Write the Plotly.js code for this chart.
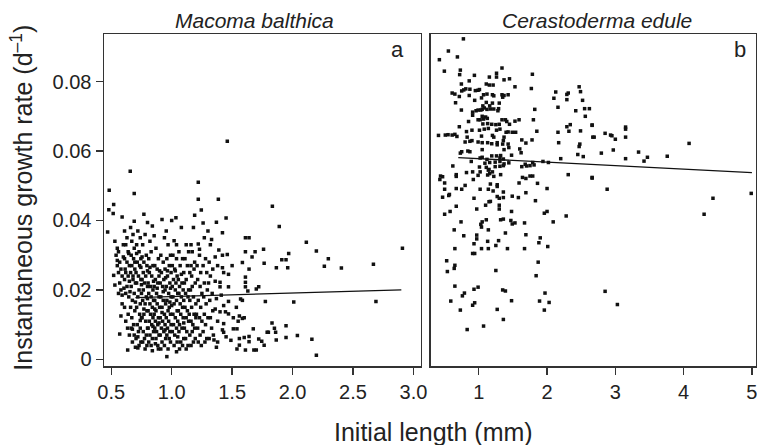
<!DOCTYPE html>
<html>
<head>
<meta charset="utf-8">
<script src="https://cdn.plot.ly/plotly-3.0.1.min.js"></script>
<style>html,body{margin:0;padding:0;background:#fff;}#chart{width:757px;height:445px;}</style>
</head>
<body>
<div id="chart"></div>
<script>
// ---- Data ----
const panelTitles = ["Macoma balthica", "Cerastoderma edule"];
const panelLetters = ["a", "b"];
const xTicksA = [0.5, 1.0, 1.5, 2.0, 2.5, 3.0];
const xTickTextA = ["0.5", "1.0", "1.5", "2.0", "2.5", "3.0"];
const xTicksB = [1, 2, 3, 4, 5];
const xTickTextB = ["1", "2", "3", "4", "5"];
const yTicks = [0, 0.02, 0.04, 0.06, 0.08];
const yTickText = ["0", "0.02", "0.04", "0.06", "0.08"];

// Macoma balthica: [initial length (mm), growth rate (d^-1)]
const macomaPoints = [
[0.53,0.034],[0.55,0.032],[0.56,0.031],[0.54,0.030],[0.57,0.028],[0.55,0.027],[0.58,0.026],[0.56,0.025],[0.59,0.024],[0.57,0.022],[0.53,0.0214],[0.58,0.020],[0.56,0.019],[0.59,0.016],[0.58,0.0125],[0.55,0.0285],[0.60,0.033],[0.52,0.0242],[0.57,0.0073],[0.59,0.0185],[0.60,0.0295],
[0.61,0.037],[0.63,0.035],[0.62,0.033],[0.64,0.031],[0.61,0.029],[0.63,0.028],[0.65,0.027],[0.62,0.025],[0.64,0.024],[0.61,0.023],[0.63,0.021],[0.62,0.019],[0.645,0.018],[0.61,0.015],[0.64,0.013],[0.62,0.011],[0.635,0.009],[0.65,0.007],[0.615,0.026],[0.645,0.0305],[0.605,0.0205],[0.65,0.0225],[0.636,0.0027],
[0.66,0.038],[0.68,0.036],[0.67,0.034],[0.69,0.032],[0.665,0.030],[0.685,0.029],[0.67,0.027],[0.695,0.026],[0.66,0.025],[0.68,0.023],[0.70,0.022],[0.665,0.021],[0.69,0.019],[0.675,0.017],[0.66,0.015],[0.695,0.014],[0.67,0.012],[0.685,0.010],[0.665,0.009],[0.69,0.007],[0.675,0.005],[0.70,0.0035],[0.68,0.024],[0.695,0.028],[0.655,0.0195],[0.70,0.0165],[0.69,0.0398],[0.675,0.0087],
[0.72,0.037],[0.74,0.035],[0.71,0.033],[0.73,0.031],[0.745,0.029],[0.715,0.028],[0.735,0.027],[0.705,0.025],[0.725,0.024],[0.745,0.023],[0.71,0.022],[0.73,0.020],[0.75,0.019],[0.72,0.018],[0.74,0.016],[0.71,0.015],[0.735,0.013],[0.75,0.012],[0.715,0.010],[0.74,0.009],[0.725,0.008],[0.705,0.006],[0.745,0.005],[0.73,0.004],[0.72,0.0033],[0.745,0.0265],[0.71,0.0305],[0.75,0.0215],[0.74,0.0112],[0.72,0.0065],
[0.77,0.0418],[0.78,0.036],[0.76,0.033],[0.79,0.030],[0.77,0.028],[0.795,0.027],[0.765,0.025],[0.785,0.024],[0.755,0.023],[0.775,0.022],[0.80,0.021],[0.765,0.020],[0.79,0.018],[0.76,0.017],[0.78,0.016],[0.795,0.014],[0.77,0.013],[0.755,0.012],[0.785,0.011],[0.80,0.009],[0.765,0.008],[0.79,0.007],[0.775,0.006],[0.76,0.005],[0.795,0.004],[0.78,0.003],[0.80,0.0394],[0.755,0.0295],[0.80,0.0255],[0.77,0.0145],
[0.84,0.0384],[0.82,0.034],[0.83,0.031],[0.81,0.029],[0.845,0.027],[0.815,0.025],[0.835,0.024],[0.805,0.022],[0.825,0.021],[0.845,0.020],[0.81,0.019],[0.83,0.018],[0.85,0.017],[0.82,0.016],[0.84,0.015],[0.805,0.014],[0.825,0.013],[0.845,0.012],[0.815,0.011],[0.835,0.010],[0.805,0.009],[0.85,0.008],[0.82,0.007],[0.84,0.006],[0.81,0.005],[0.83,0.004],[0.84,0.0025],[0.82,0.0265],[0.85,0.0225],[0.80,0.0175],[0.845,0.0095],
[0.855,0.0356],[0.87,0.032],[0.89,0.029],[0.86,0.027],[0.88,0.026],[0.895,0.024],[0.865,0.023],[0.885,0.022],[0.855,0.021],[0.875,0.019],[0.895,0.018],[0.86,0.017],[0.88,0.016],[0.90,0.015],[0.87,0.014],[0.855,0.013],[0.89,0.012],[0.865,0.011],[0.885,0.010],[0.86,0.009],[0.875,0.008],[0.895,0.007],[0.87,0.006],[0.885,0.004],[0.89,0.003],[0.865,0.0045],[0.88,0.0205],[0.90,0.0255],[0.86,0.0145],[0.895,0.0105],
[0.92,0.0403],[0.94,0.035],[0.91,0.030],[0.93,0.028],[0.945,0.026],[0.915,0.025],[0.935,0.023],[0.905,0.022],[0.925,0.021],[0.945,0.020],[0.91,0.018],[0.93,0.017],[0.95,0.016],[0.92,0.015],[0.94,0.013],[0.905,0.012],[0.925,0.011],[0.945,0.010],[0.915,0.009],[0.935,0.008],[0.905,0.007],[0.95,0.006],[0.92,0.005],[0.94,0.004],[0.91,0.003],[0.93,0.0195],[0.95,0.0235],[0.92,0.0135],[0.945,0.0085],
[0.955,0.037],[0.97,0.033],[0.99,0.030],[0.96,0.029],[0.98,0.027],[0.995,0.025],[0.965,0.024],[0.985,0.022],[0.955,0.021],[0.975,0.019],[0.995,0.018],[0.96,0.017],[0.98,0.015],[0.97,0.014],[0.99,0.013],[0.955,0.012],[0.975,0.011],[0.995,0.010],[0.965,0.009],[0.985,0.008],[0.96,0.007],[0.98,0.006],[0.99,0.005],[0.97,0.003],[0.96,0.0008],[1.00,0.040],[0.985,0.0165],[0.965,0.0255],[0.99,0.0205],
[1.035,0.0408],[1.02,0.0342],[1.01,0.030],[1.04,0.029],[1.005,0.027],[1.025,0.026],[1.045,0.024],[1.015,0.023],[1.035,0.022],[1.005,0.021],[1.03,0.020],[1.05,0.019],[1.01,0.018],[1.04,0.017],[1.02,0.016],[1.045,0.014],[1.01,0.013],[1.03,0.012],[1.05,0.011],[1.015,0.010],[1.04,0.009],[1.005,0.008],[1.025,0.007],[1.045,0.005],[1.02,0.004],[1.04,0.0022],[1.04,0.033],[1.00,0.0155],[1.03,0.0255],[1.05,0.0065],
[1.08,0.038],[1.06,0.031],[1.09,0.029],[1.07,0.027],[1.10,0.025],[1.055,0.023],[1.085,0.022],[1.065,0.021],[1.095,0.020],[1.06,0.019],[1.08,0.018],[1.10,0.017],[1.07,0.016],[1.09,0.015],[1.055,0.014],[1.075,0.013],[1.095,0.012],[1.065,0.010],[1.085,0.009],[1.06,0.008],[1.10,0.006],[1.075,0.005],[1.09,0.004],[1.065,0.003],[1.08,0.0245],[1.10,0.0105],
[1.12,0.033],[1.14,0.031],[1.11,0.029],[1.13,0.027],[1.15,0.025],[1.12,0.023],[1.105,0.022],[1.14,0.020],[1.115,0.019],[1.135,0.018],[1.15,0.017],[1.11,0.015],[1.13,0.014],[1.145,0.013],[1.12,0.012],[1.14,0.011],[1.105,0.009],[1.125,0.008],[1.15,0.007],[1.115,0.006],[1.135,0.004],[1.12,0.003],[1.16,0.033],
[1.19,0.0415],[1.18,0.038],[1.17,0.031],[1.19,0.028],[1.16,0.027],[1.185,0.026],[1.165,0.024],[1.195,0.022],[1.17,0.021],[1.155,0.020],[1.18,0.018],[1.20,0.016],[1.165,0.015],[1.185,0.013],[1.20,0.012],[1.16,0.011],[1.175,0.010],[1.19,0.009],[1.17,0.008],[1.195,0.006],[1.18,0.005],[1.16,0.004],
[1.245,0.043],[1.22,0.0332],[1.23,0.030],[1.21,0.027],[1.24,0.025],[1.215,0.023],[1.235,0.021],[1.25,0.019],[1.22,0.017],[1.24,0.015],[1.205,0.013],[1.23,0.012],[1.25,0.011],[1.215,0.009],[1.235,0.007],[1.22,0.005],[1.245,0.004],[1.23,0.0317],
[1.27,0.035],[1.26,0.0393],[1.28,0.029],[1.26,0.027],[1.29,0.025],[1.27,0.022],[1.295,0.020],[1.265,0.018],[1.285,0.016],[1.27,0.013],[1.30,0.012],[1.28,0.010],[1.26,0.008],[1.29,0.006],[1.275,0.005],
[1.30,0.037],[1.32,0.033],[1.31,0.028],[1.34,0.026],[1.32,0.024],[1.305,0.022],[1.335,0.019],[1.315,0.017],[1.34,0.014],[1.32,0.012],[1.33,0.009],[1.345,0.007],[1.35,0.0056],[1.31,0.006],
[1.46,0.0628],[0.657,0.0542],[0.483,0.0487],[0.69,0.0478],[1.22,0.051],[1.22,0.0461],[1.386,0.0461],[1.45,0.0407],[1.833,0.0441],[1.89,0.0383],[2.114,0.0337],[2.197,0.0312],[2.909,0.032],[2.669,0.0274],[2.404,0.0263],[2.296,0.029],[2.263,0.0268],[1.968,0.0305],[1.946,0.0287],[1.911,0.0287],[1.866,0.0264],[1.96,0.0264],[1.76,0.0317],[1.765,0.0277],[1.69,0.031],[1.665,0.0295],[1.61,0.035],[1.64,0.035],[1.61,0.031],[1.585,0.0279],[1.64,0.026],[1.50,0.027],[1.42,0.0264],[1.46,0.0302],[1.43,0.025],[1.47,0.0245],[1.72,0.0209],[1.70,0.0203],[1.61,0.0237],[1.61,0.0222],[1.61,0.0209],[1.63,0.0197],[1.57,0.0174],[1.585,0.017],[1.47,0.0209],[1.40,0.0222],[1.40,0.0209],[1.775,0.0167],[2.01,0.0165],[2.69,0.0167],[1.47,0.0167],[1.535,0.015],[1.47,0.0131],[1.40,0.0137],[1.445,0.0137],[1.51,0.012],[1.56,0.0125],[1.585,0.0118],[1.60,0.012],[1.55,0.011],[1.43,0.0103],[1.38,0.011],[1.51,0.0088],[1.54,0.0088],[1.675,0.0088],[1.83,0.0105],[1.85,0.009],[1.946,0.0097],[1.79,0.0078],[1.80,0.0078],[1.86,0.0078],[1.43,0.0078],[1.64,0.0066],[1.60,0.0063],[1.56,0.006],[1.72,0.0059],[1.745,0.0052],[1.765,0.0041],[1.865,0.0056],[1.946,0.0063],[2.04,0.0069],[2.16,0.0058],[2.197,0.0012],[1.64,0.0051],[1.61,0.0027],[1.68,0.0027],[1.70,0.0027],[1.54,0.003],[1.56,0.0041],[1.38,0.005],[0.47,0.0367],[0.48,0.0431],[0.52,0.0446],[0.516,0.042],[0.59,0.041],
[1.37,0.0395],[1.33,0.0345],[1.42,0.0365],[1.39,0.0315],[1.36,0.0295],[1.42,0.030],[1.38,0.027],[1.36,0.0225],[1.41,0.0185],[1.37,0.0175],[1.43,0.0155],[1.36,0.0145],[1.42,0.0085],[1.45,0.0065],[1.49,0.0055],[1.37,0.0035]
];

// Cerastoderma edule: [initial length (mm), growth rate (d^-1)]
const cerastoPoints = [
[0.775,0.0923],[0.555,0.0888],[0.423,0.0863],[0.687,0.0871],[0.496,0.0830],[0.73,0.0833],[0.72,0.082],[0.936,0.0818],[1.155,0.0813],[1.26,0.0824],[1.34,0.0839],[1.26,0.0813],[1.45,0.0808],[1.37,0.0805],[1.785,0.0821],[0.745,0.0793],[0.86,0.0802],[1.11,0.0793],[1.155,0.079],[1.21,0.079],[1.53,0.0785],
[0.78,0.0776],[0.75,0.0773],[0.81,0.0779],[0.87,0.0778],[0.95,0.0774],[0.99,0.0775],[1.01,0.0777],[1.07,0.0762],[1.12,0.0764],[0.61,0.0767],[0.65,0.0764],[0.715,0.0757],[0.86,0.076],[1.20,0.0762],[1.22,0.0759],[1.34,0.0762],[1.37,0.0760],[1.43,0.0762],[1.35,0.0755],[1.77,0.078],[2.127,0.077],[2.31,0.0767],[2.29,0.0763],[2.47,0.0785],[2.49,0.0771],[2.10,0.0752],[2.29,0.0748],[2.52,0.0746],
[0.66,0.0739],[0.94,0.0746],[1.04,0.0753],[1.11,0.074],[1.20,0.0738],[1.30,0.0738],[1.06,0.073],[1.05,0.072],[1.16,0.073],[0.745,0.0718],[1.29,0.0722],[1.82,0.072],[2.16,0.0726],[2.42,0.0716],[2.55,0.0722],[2.62,0.0722],
[0.91,0.0712],[0.96,0.0716],[0.99,0.0718],[1.03,0.0718],[1.08,0.0724],[1.12,0.072],[1.17,0.0721],[1.22,0.0721],[1.28,0.0716],
[0.91,0.0703],[1.05,0.070],[1.10,0.0698],[1.02,0.069],[1.07,0.0692],[1.125,0.0694],[1.34,0.069],[1.39,0.069],[0.99,0.069],[1.06,0.0678],[1.13,0.0679],[1.19,0.0677],[1.25,0.0676],[1.30,0.0677],[1.45,0.0677],[1.41,0.0685],[1.53,0.0686],[1.59,0.069],[1.80,0.069],[2.56,0.070],[2.34,0.0676],[2.29,0.067],[2.66,0.0675],[0.85,0.0685],[0.715,0.067],
[0.82,0.0656],[0.90,0.066],[1.01,0.066],[1.08,0.0663],[1.14,0.0665],[1.26,0.066],[1.31,0.0663],[1.40,0.0654],[1.43,0.0655],[1.49,0.0654],[1.54,0.0654],[1.85,0.0657],[2.16,0.0654],[2.32,0.0657],[2.49,0.0658],[2.67,0.064],
[0.41,0.0645],[0.51,0.0646],[0.55,0.0647],[0.61,0.0646],[0.65,0.0648],[0.68,0.0642],[0.83,0.064],[0.90,0.063],[1.04,0.0643],[1.20,0.0645],[1.22,0.064],[1.37,0.064],[1.36,0.063],[1.63,0.0632],[1.69,0.0623],[1.78,0.0632],[2.17,0.0624],[2.48,0.062],[2.47,0.0613],
[0.87,0.0628],[0.80,0.0626],[0.99,0.0626],[1.05,0.0624],[1.13,0.0624],[1.19,0.0621],[1.27,0.0624],[1.27,0.0618],[1.35,0.062],[1.43,0.062],
[0.84,0.0600],[0.87,0.0598],[0.75,0.0598],[0.73,0.0594],[1.05,0.0604],[1.37,0.0604],[1.44,0.061],[1.60,0.0606],[1.62,0.0595],[2.45,0.059],[2.53,0.0584],
[1.19,0.0586],[1.26,0.0586],[1.32,0.0587],[1.48,0.0588],[1.02,0.058],[1.05,0.0582],[1.12,0.0576],[1.31,0.058],[1.36,0.0577],[1.94,0.057],[2.02,0.0567],[2.20,0.0578],
[0.89,0.057],[1.09,0.0565],[1.16,0.0567],[1.24,0.0568],[1.31,0.057],[1.44,0.0566],[1.37,0.0563],
[0.62,0.0557],[1.01,0.0554],[1.11,0.0553],[1.15,0.0547],[1.14,0.0545],[1.24,0.0555],[1.31,0.0556],[1.36,0.0558],[1.63,0.0555],[1.68,0.0562],[1.70,0.0557],[1.75,0.0558],[1.79,0.0567],[1.81,0.056],
[0.91,0.054],[0.99,0.053],[1.16,0.0535],[1.32,0.0532],[1.75,0.0528],[1.79,0.0528],[2.31,0.0532],[2.66,0.0524],[0.44,0.0528],[0.67,0.0532],
[0.43,0.0518],[0.47,0.0526],[0.50,0.0508],[0.67,0.0527],[0.82,0.0538],[0.92,0.0518],[1.02,0.054],[1.13,0.0531],[1.20,0.054],[1.22,0.0527],[1.17,0.0505],[1.27,0.0503],[1.27,0.0498],[1.59,0.0508],[1.64,0.0524],[1.69,0.0521],[1.86,0.0507],[2.00,0.0492],[0.50,0.049],[0.67,0.0492],[0.75,0.049],[0.80,0.0501],[0.47,0.0467],[0.56,0.0472],[0.57,0.0475],[0.93,0.0464],[1.02,0.049],[1.14,0.049],[1.21,0.0485],[1.36,0.0482],[1.27,0.0469],[1.30,0.0464],[1.36,0.0466],[1.49,0.047],[1.58,0.0466],[1.69,0.048],[1.83,0.0457],[1.17,0.0455],[1.15,0.0454],[1.10,0.0444],[1.30,0.0444],[1.30,0.0433],[0.97,0.0433],[0.67,0.0441],[0.58,0.0426],[0.50,0.0418],[1.48,0.0426],[1.96,0.0421],[2.00,0.0426],[2.28,0.0413],[2.09,0.0396],[0.74,0.0396],[1.05,0.0396],[1.03,0.0389],[1.04,0.0381],[1.11,0.0402],[1.32,0.0402],[1.36,0.0404],[1.47,0.040],[1.49,0.039],[1.53,0.0393],[1.67,0.0393],[0.64,0.0373],[1.14,0.0373],[0.78,0.0356],[0.97,0.0358],[0.97,0.0347],[1.39,0.0364],[1.69,0.0359],[1.90,0.035],[1.13,0.034],[1.29,0.0342],[1.25,0.0328],[0.93,0.0333],[1.88,0.0336],[2.01,0.0325],[0.65,0.0319],[0.91,0.0305],[0.94,0.0305],[1.04,0.0319],[1.14,0.0319],[1.42,0.0319],[1.67,0.0319],[0.53,0.0284],[1.87,0.028],[0.65,0.0271],[0.64,0.0262],[0.54,0.0253],[1.25,0.0256],[1.84,0.0241],[0.65,0.0211],[0.93,0.0202],[0.99,0.0208],[1.35,0.020],[1.39,0.0197],[0.79,0.0191],[0.76,0.0183],[0.59,0.0168],[1.97,0.0191],[1.89,0.0168],[1.27,0.0144],
[0.73,0.0142],[0.91,0.0156],[0.94,0.0163],[0.83,0.0086],[1.07,0.0096],[1.36,0.0115],[1.48,0.0169],[1.96,0.0142],[2.03,0.0164],[3.03,0.0158],
[2.66,0.0674],[2.69,0.064],[2.85,0.0651],[2.93,0.0646],[2.95,0.0644],[3.00,0.0634],[3.15,0.0669],[3.15,0.0663],[3.15,0.064],[2.795,0.0594],[2.97,0.0603],[3.15,0.0578],[3.34,0.0597],[3.47,0.0582],[3.42,0.0571],[3.76,0.0585],[4.08,0.0622],[2.66,0.0522],[2.88,0.049],[4.43,0.0464],[4.99,0.0478],[4.30,0.0418],[2.85,0.0196]
];

// Fitted regression lines (end points)
const macomaFitX = [0.70, 2.90];
const macomaFitY = [0.0178, 0.0200];
const cerastoFitX = [0.70, 5.00];
const cerastoFitY = [0.0581, 0.0538];

// ---- Chart ----
const FONT = "Liberation Sans, Arial, Helvetica, sans-serif";
const axisCol = "#333";
const marker = {symbol: "square", size: 3.5, color: "#111", line: {width: 0}};

const traces = [
  {type: "scatter", mode: "markers", x: macomaPoints.map(p => p[0]), y: macomaPoints.map(p => p[1]),
   xaxis: "x", yaxis: "y", marker: marker, hoverinfo: "x+y"},
  {type: "scatter", mode: "lines", x: macomaFitX, y: macomaFitY, xaxis: "x", yaxis: "y",
   line: {color: "#111", width: 1.3}},
  {type: "scatter", mode: "markers", x: cerastoPoints.map(p => p[0]), y: cerastoPoints.map(p => p[1]),
   xaxis: "x2", yaxis: "y2", marker: marker, hoverinfo: "x+y"},
  {type: "scatter", mode: "lines", x: cerastoFitX, y: cerastoFitY, xaxis: "x2", yaxis: "y2",
   line: {color: "#111", width: 1.3}}
];

const commonAxis = {
  showline: true, mirror: true, linecolor: axisCol, linewidth: 1.5,
  showgrid: false, zeroline: false, ticks: "outside", ticklen: 7, tickwidth: 1.3, tickcolor: axisCol,
  ticklabeloverflow: "allow",
  tickfont: {family: FONT, size: 20, color: "#222"}
};

const layout = {
  width: 757, height: 445,
  margin: {l: 104, r: 1, t: 34, b: 79},
  paper_bgcolor: "#fff", plot_bgcolor: "#fff",
  showlegend: false,
  font: {family: FONT, color: "#222"},
  xaxis: Object.assign({}, commonAxis, {domain: [0, 0.4857], range: [0.44, 3.06],
    tickmode: "array", tickvals: xTicksA, ticktext: xTickTextA, anchor: "y"}),
  yaxis: Object.assign({}, commonAxis, {range: [-0.0019, 0.0937],
    tickmode: "array", tickvals: yTicks, ticktext: yTickText, anchor: "x"}),
  xaxis2: Object.assign({}, commonAxis, {domain: [0.5015, 1], range: [0.30, 5.06],
    tickmode: "array", tickvals: xTicksB, ticktext: xTickTextB, anchor: "y2"}),
  yaxis2: Object.assign({}, commonAxis, {range: [-0.0019, 0.0937], anchor: "x2",
    ticks: "", showticklabels: false}),
  annotations: [
    {xref: "paper", yref: "paper", x: 0.2308, y: 1.042, text: "<i>" + panelTitles[0] + "</i>", showarrow: false,
     font: {family: FONT, size: 21, color: "#222"}, xanchor: "center", yanchor: "middle"},
    {xref: "paper", yref: "paper", x: 0.756, y: 1.042, text: "<i>" + panelTitles[1] + "</i>", showarrow: false,
     font: {family: FONT, size: 21, color: "#222"}, xanchor: "center", yanchor: "middle"},
    {xref: "paper", yref: "paper", x: 0.4494, y: 0.952, text: panelLetters[0], showarrow: false,
     font: {family: FONT, size: 22, color: "#222"}, xanchor: "center", yanchor: "middle"},
    {xref: "paper", yref: "paper", x: 0.9755, y: 0.952, text: panelLetters[1], showarrow: false,
     font: {family: FONT, size: 22, color: "#222"}, xanchor: "center", yanchor: "middle"},
    {xref: "paper", yref: "paper", x: 0.5054, y: -0.199, text: "Initial length (mm)", showarrow: false,
     font: {family: FONT, size: 25, color: "#222"}, xanchor: "center", yanchor: "middle"},
    {xref: "paper", yref: "paper", x: -0.127, y: 0.5075, text: "Instantaneous growth rate (d<sup>\u20131</sup>)", showarrow: false,
     textangle: -90, font: {family: FONT, size: 25, color: "#222"}, xanchor: "center", yanchor: "middle"}
  ]
};

Plotly.newPlot("chart", traces, layout, {displayModeBar: false, staticPlot: true});
</script>
</body>
</html>
